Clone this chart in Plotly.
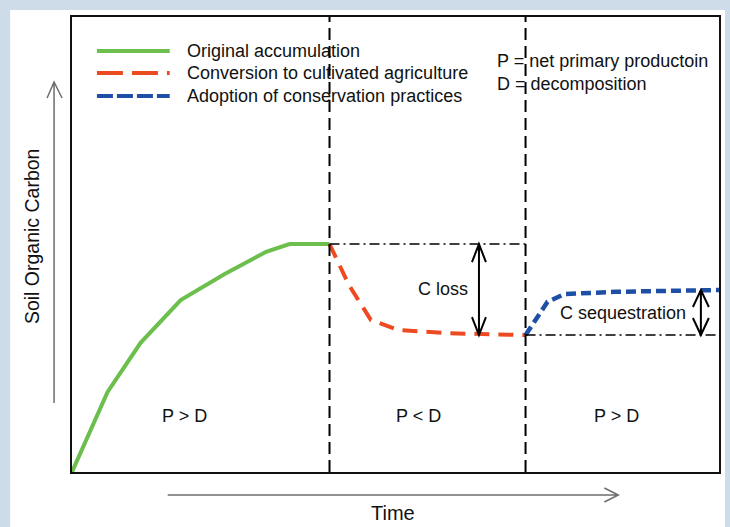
import plotly.graph_objects as go

# ---------------- data (x: time 0-100, y: soil organic carbon 0-100) ----------------
series_names = ["Original accumulation",
                "Conversion to cultivated agriculture",
                "Adoption of conservation practices"]
green_x = [0, 5.5, 10.6, 16.8, 23.6, 30.0, 33.6, 39.8]
green_y = [0, 17.6, 28.4, 37.8, 43.5, 48.4, 50.1, 50.1]
red_x = [39.8, 42.8, 46.2, 50.5, 58.2, 70.1]
red_y = [50.1, 41.1, 33.4, 31.2, 30.5, 30.1]
blue_x = [70.1, 73.5, 76.1, 84.0, 100]
blue_y = [30.1, 37.4, 39.1, 39.6, 40.0]
phase_bounds = [39.8, 70.1]
phase_labels = ["P > D", "P < D", "P > D"]
phase_label_x = [17.4, 53.6, 84.1]
loss_arrow_x = 62.9
seq_arrow_x = 97.2

FONT = "Liberation Sans, Arial, sans-serif"
W, H = 730, 527
L, R, T, B = 72, 721, 17, 472   # plot-area pixel bounds
colors = ["#6cbf4c", "#ee4a22", "#1c4fa5"]
FRAME = "#cedcea"

def XP(px):
    return (px - L) / (R - L)

def YP(py):
    return (B - py) / (B - T)

def dx_data(px):
    return px / (R - L) * 100

def dy_data(py):
    return py / (B - T) * 100

fig = go.Figure()
fig.add_trace(go.Scatter(x=green_x, y=green_y, mode="lines", name=series_names[0],
                         line=dict(color=colors[0], width=4), cliponaxis=False))
fig.add_trace(go.Scatter(x=red_x, y=red_y, mode="lines", name=series_names[1],
                         line=dict(color=colors[1], width=4, dash="15px,9px"), cliponaxis=False))
fig.add_trace(go.Scatter(x=blue_x, y=blue_y, mode="lines", name=series_names[2],
                         line=dict(color=colors[2], width=4.5, dash="10px,5px"), cliponaxis=False))

shapes = []
# light-blue frame strips (left, top, right)
for (a, b, c, d) in [(-5, 10, -5, 535), (-5, 740, -5, 10), (727, 740, -5, 535)]:
    shapes.append(dict(type="rect", xref="paper", yref="paper", layer="below",
                       x0=XP(a), x1=XP(b), y0=YP(d), y1=YP(c),
                       fillcolor=FRAME, line=dict(width=0)))
# phase boundaries
for xb in phase_bounds:
    shapes.append(dict(type="line", xref="x", yref="y", x0=xb, x1=xb, y0=0, y1=100,
                       line=dict(color="black", width=2, dash="12px,6px")))
# reference dash-dot lines
shapes.append(dict(type="line", xref="x", yref="y", x0=phase_bounds[0], x1=phase_bounds[1],
                   y0=green_y[-1], y1=green_y[-1],
                   line=dict(color="black", width=1.5, dash="10px,4px,2px,4px")))
shapes.append(dict(type="line", xref="x", yref="y", x0=phase_bounds[1], x1=100,
                   y0=red_y[-1], y1=red_y[-1],
                   line=dict(color="black", width=1.5, dash="10px,4px,2px,4px")))

def double_arrow(x, ytop, ybot, hw=7, hl=18):
    hx, hy = dx_data(hw), dy_data(hl)
    return (f"M{x},{ytop} L{x},{ybot} "
            f"M{x-hx},{ytop-hy} L{x},{ytop} L{x+hx},{ytop-hy} "
            f"M{x-hx},{ybot+hy} L{x},{ybot} L{x+hx},{ybot+hy}")

shapes.append(dict(type="path", xref="x", yref="y",
                   path=double_arrow(loss_arrow_x, green_y[-1], red_y[-1]),
                   line=dict(color="black", width=2)))
shapes.append(dict(type="path", xref="x", yref="y",
                   path=double_arrow(seq_arrow_x, blue_y[-1], red_y[-1], hw=8, hl=17),
                   line=dict(color="black", width=2)))

# outer axis arrows (gray)
shapes.append(dict(type="path", xref="paper", yref="paper",
                   path=(f"M{XP(54)},{YP(403)} L{XP(54)},{YP(82)} "
                         f"M{XP(47)},{YP(98)} L{XP(54)},{YP(82)} L{XP(62)},{YP(98)}"),
                   line=dict(color="#6e6e6e", width=1.5)))
shapes.append(dict(type="path", xref="paper", yref="paper",
                   path=(f"M{XP(168)},{YP(495)} L{XP(620)},{YP(495)} "
                         f"M{XP(606)},{YP(488)} L{XP(620)},{YP(495)} L{XP(606)},{YP(502)}"),
                   line=dict(color="#6e6e6e", width=1.5)))

# manual legend
leg_y = [51, 73, 96]
leg_dash = ["solid", "26px,9px", "16px,4px"]
annotations = []
for name, c, d, yy in zip(series_names, colors, leg_dash, leg_y):
    shapes.append(dict(type="line", xref="paper", yref="paper",
                       x0=XP(97), x1=XP(170), y0=YP(yy), y1=YP(yy),
                       line=dict(color=c, width=4, dash=d)))
    annotations.append(dict(xref="paper", yref="paper", x=XP(185), y=YP(yy), text=name,
                            showarrow=False, xanchor="left", yanchor="middle",
                            font=dict(size=18, color="#111", family=FONT)))

annotations.append(dict(xref="paper", yref="paper", x=XP(496), y=YP(72),
                        text="P = net primary productoin<br>D = decomposition",
                        showarrow=False, xanchor="left", yanchor="middle", align="left",
                        font=dict(size=18, color="#111", family=FONT)))
for lab, lx in zip(phase_labels, phase_label_x):
    annotations.append(dict(xref="x", yref="y", x=lx, y=dy_data(B - 416), text=lab,
                            showarrow=False, font=dict(size=18, color="#111", family=FONT)))
annotations.append(dict(xref="x", yref="y", x=57.3, y=40.2, text="C loss", showarrow=False,
                        font=dict(size=18, color="#111", family=FONT)))
annotations.append(dict(xref="x", yref="y", x=85.2, y=34.9, text="C sequestration",
                        showarrow=False, font=dict(size=18, color="#111", family=FONT)))
annotations.append(dict(xref="paper", yref="paper", x=XP(32), y=YP(236),
                        xanchor="center", yanchor="middle",
                        text="Soil Organic Carbon", textangle=-90, showarrow=False,
                        font=dict(size=19.5, color="#111", family=FONT)))
annotations.append(dict(xref="paper", yref="paper", x=XP(394), y=YP(513),
                        xanchor="center", yanchor="middle", text="Time",
                        showarrow=False, font=dict(size=20, color="#111", family=FONT)))

fig.update_layout(
    width=W, height=H,
    margin=dict(l=L, r=W - R, t=T, b=H - B),
    paper_bgcolor="white", plot_bgcolor="white",
    showlegend=False,
    shapes=shapes, annotations=annotations,
    xaxis=dict(range=[0, 100], showgrid=False, zeroline=False, showticklabels=False,
               ticks="", showline=True, mirror=True, linecolor="#111", linewidth=1.5,
               fixedrange=True),
    yaxis=dict(range=[0, 100], showgrid=False, zeroline=False, showticklabels=False,
               ticks="", showline=True, mirror=True, linecolor="#111", linewidth=1.5,
               fixedrange=True),
)
fig.write_html("out.html", config={"displayModeBar": False},
               post_script=("document.body.style.margin='0';"
                            "document.body.style.overflow='hidden';"
                            "document.documentElement.style.background='white';"))
